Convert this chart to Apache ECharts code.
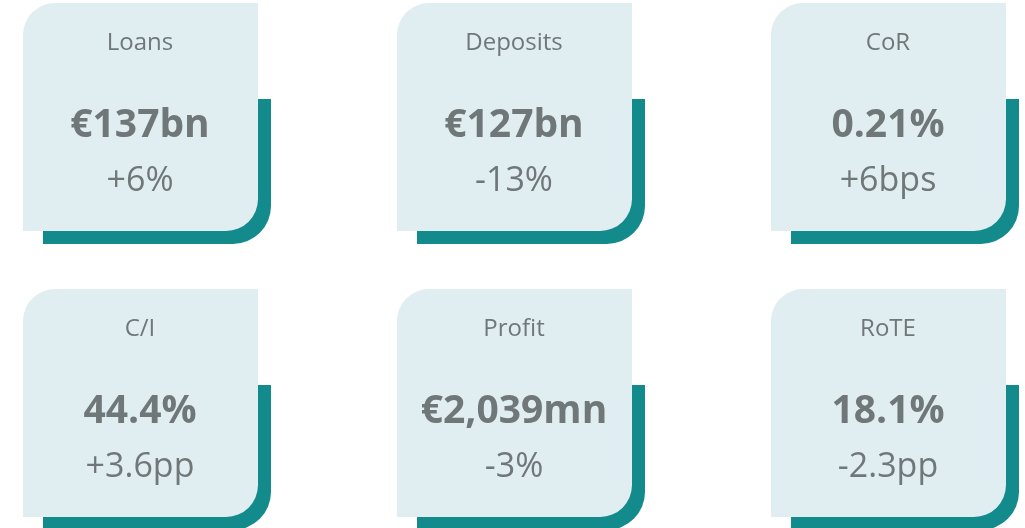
<!DOCTYPE html>
<html>
<head>
<meta charset="utf-8">
<script src="https://cdn.jsdelivr.net/npm/echarts@6/dist/echarts.min.js"></script>
<style>
  html, body { margin: 0; padding: 0; background: #fff; }
  #main { width: 1025px; height: 528px; }
</style>
</head>
<body>
<div id="main"></div>
<script>
// KPI 数据
var titles = ['Loans', 'Deposits', 'CoR', 'C/I', 'Profit', 'RoTE']
var values = ['€137bn', '€127bn', '0.21%', '44.4%', '€2,039mn', '18.1%']
var changes = ['+6%', '-13%', '+6bps', '+3.6pp', '-3%', '-2.3pp']

var textColor = '#6f7779'
var cardColor = '#e0eef1'
var teal = '#138a8c'
var font = '"Open Sans", "Noto Sans", sans-serif'

var chart = echarts.init(document.getElementById('main'))

var elements = []
titles.forEach(function (t, i) {
  var col = i % 3
  var row = Math.floor(i / 3)
  var x0 = 23 + col * 374
  var y0 = 3 + row * 286
  var cx = x0 + 117
  // 阴影块
  elements.push({
    type: 'rect',
    shape: { x: x0 + 20, y: y0 + 96, width: 228, height: 145, r: [0, 0, 38, 0] },
    style: { fill: teal },
    z: 1
  })
  // 卡片
  elements.push({
    type: 'rect',
    shape: { x: x0, y: y0, width: 235, height: 228, r: [32, 0, 32, 0] },
    style: { fill: cardColor },
    z: 2
  })
  elements.push({
    type: 'text',
    x: cx, y: y0 + 40,
    style: { text: t, fill: textColor, font: '24px ' + font, align: 'center', verticalAlign: 'middle' },
    z: 3
  })
  elements.push({
    type: 'text',
    x: cx, y: y0 + 123,
    style: { text: values[i], fill: textColor, font: 'bold 39px ' + font, align: 'center', verticalAlign: 'middle' },
    z: 3
  })
  elements.push({
    type: 'text',
    x: cx, y: y0 + 178,
    style: { text: changes[i], fill: textColor, font: '34px ' + font, align: 'center', verticalAlign: 'middle' },
    z: 3
  })
})

chart.setOption({
  animation: false,
  graphic: { elements: elements }
})
</script>
</body>
</html>
